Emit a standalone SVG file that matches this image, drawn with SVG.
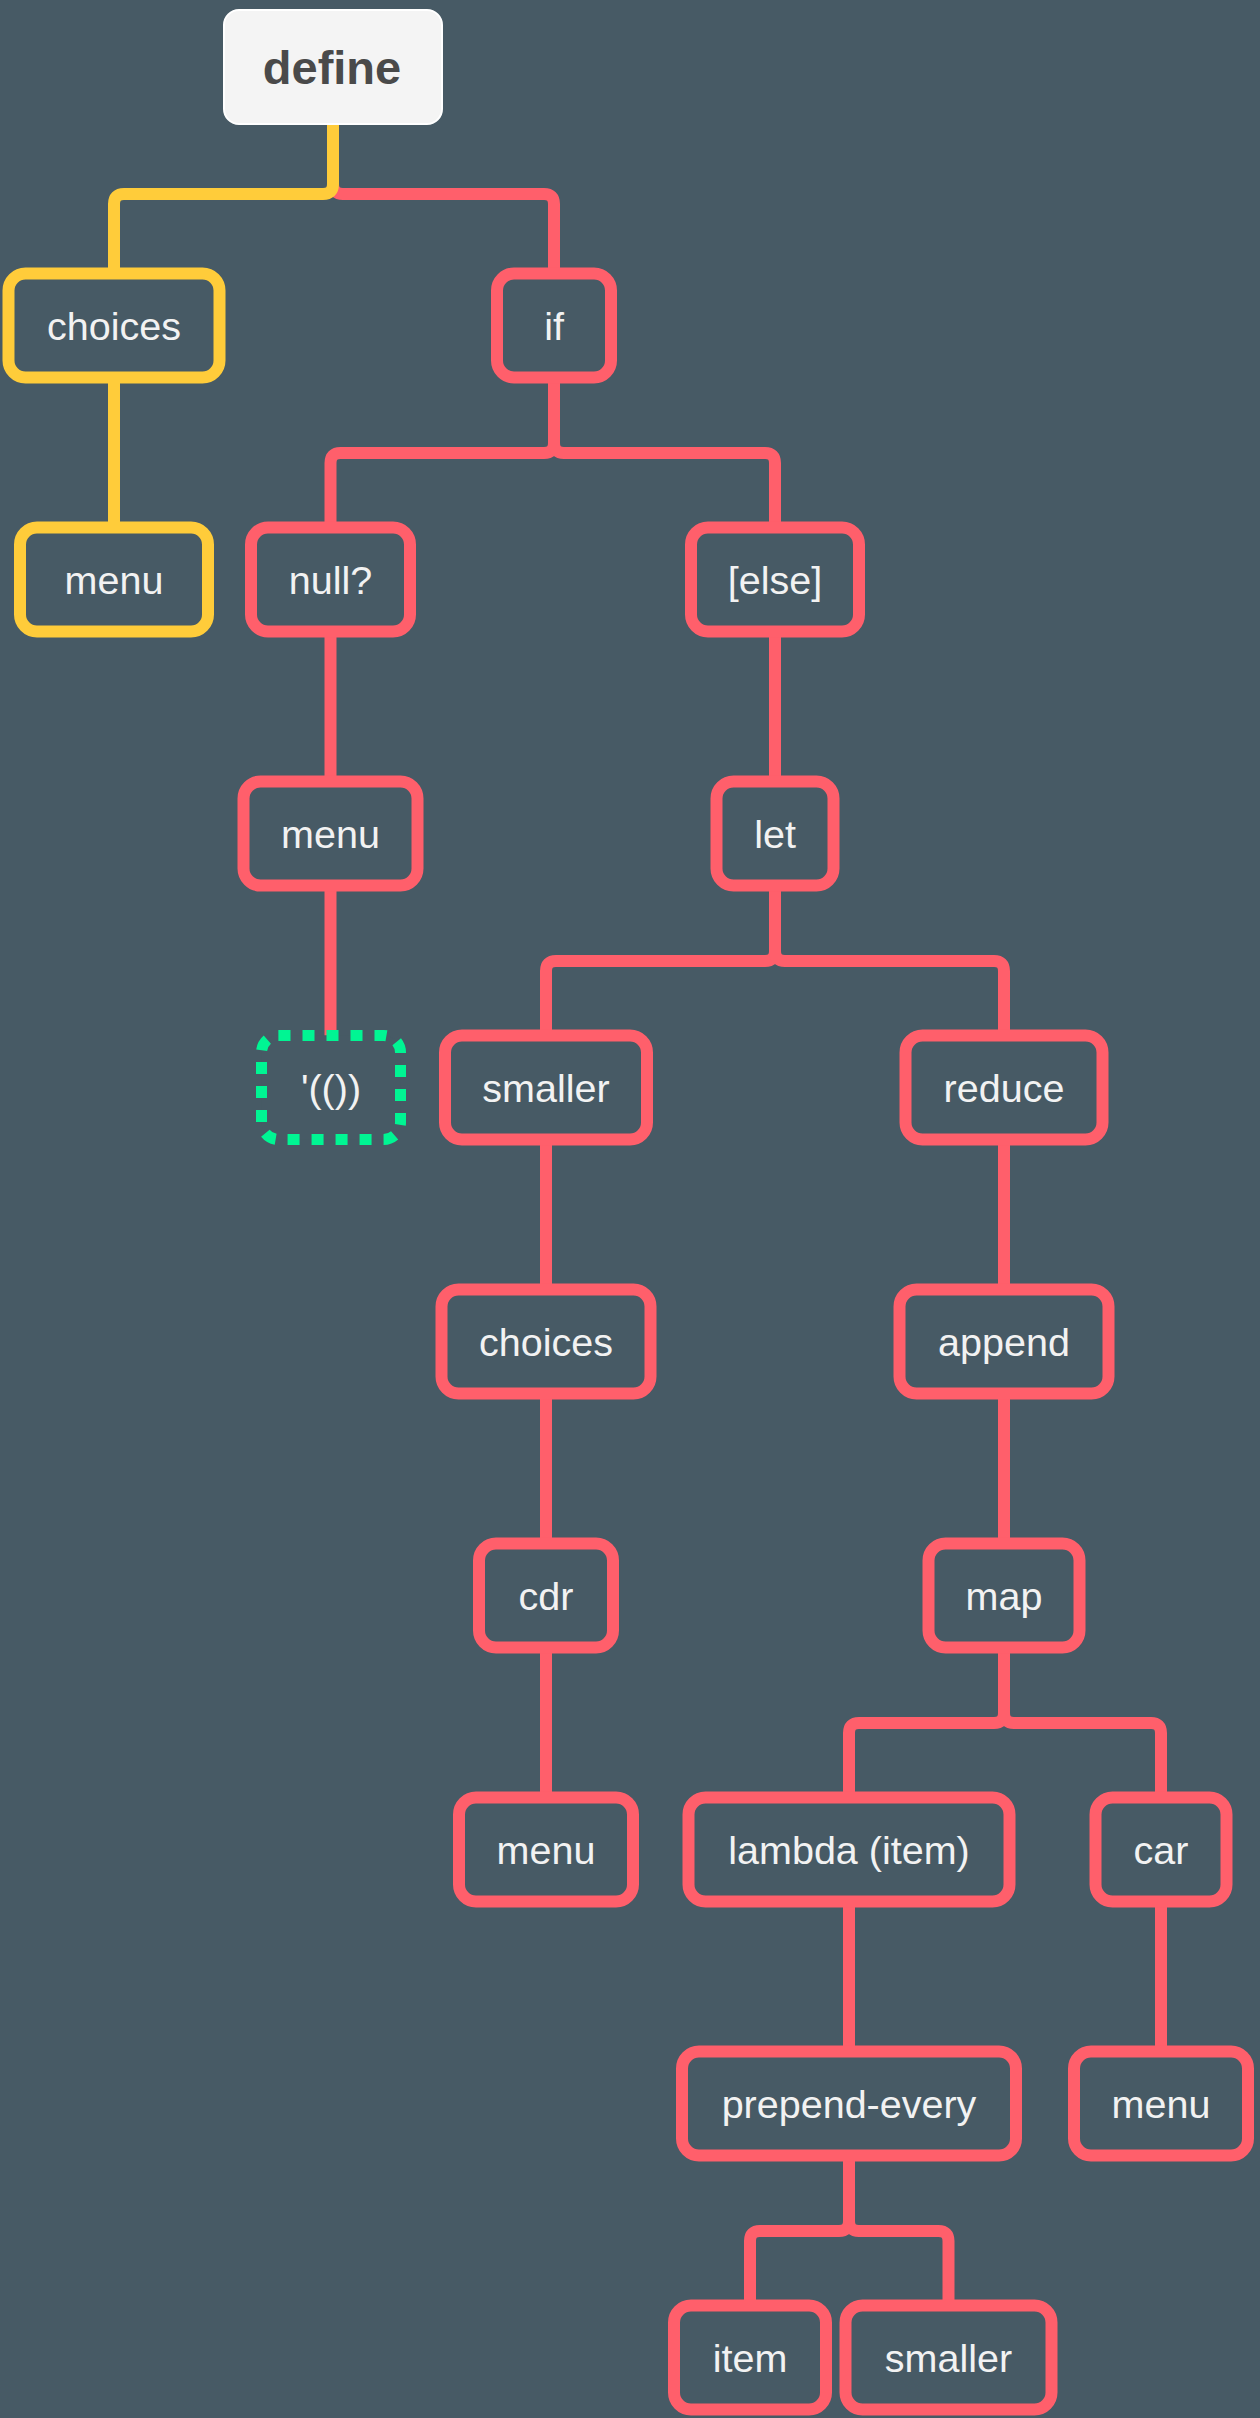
<svg xmlns="http://www.w3.org/2000/svg" width="1260" height="2418" viewBox="0 0 1260 2418">
<style>
.bg{fill:#475A65}
.ln{fill:none;stroke-width:12;stroke-linecap:butt;stroke-linejoin:round}
.ly{stroke:#FFCC3A}
.lr{stroke:#FF5F6B}
.nd{fill:#475A65;stroke-width:12}
.ny{stroke:#FFCC3A}
.nr{stroke:#FF5F6B}
.ng{fill:#475A65;stroke:#00F593;stroke-width:11;stroke-dasharray:12 12}
.t{font-family:"Liberation Sans",Arial,Helvetica,sans-serif;font-size:39.5px;fill:#F2F2F2;text-anchor:middle}
.td{font-family:"Liberation Sans",Arial,Helvetica,sans-serif;font-size:47px;font-weight:bold;fill:#4A4A4A;text-anchor:middle}
</style>
<rect class="bg" x="0" y="0" width="1260" height="2418"/>
<g id="connectors">
<path class="ln lr" d="M333,184 Q333,194 343,194 H544 Q554,194 554,204 V273.5"/>
<path class="ln ly" d="M333,124 V184 Q333,194 323,194 H124 Q114,194 114,204 V273.5"/>
<path class="ln ly" d="M114,377.5 V527.5"/>
<path class="ln lr" d="M554,377.5 V443 Q554,453 544,453 H340.5 Q330.5,453 330.5,463 V527.5"/>
<path class="ln lr" d="M554,443 Q554,453 564,453 H765 Q775,453 775,463 V527.5"/>
<path class="ln lr" d="M330.5,631.5 V781.5"/>
<path class="ln lr" d="M330.5,885.5 V1035.5"/>
<path class="ln lr" d="M775,631.5 V781.5"/>
<path class="ln lr" d="M775,885.5 V951 Q775,961 765,961 H556 Q546,961 546,971 V1035.5"/>
<path class="ln lr" d="M775,951 Q775,961 785,961 H994 Q1004,961 1004,971 V1035.5"/>
<path class="ln lr" d="M546,1139.5 V1289.5"/>
<path class="ln lr" d="M546,1393.5 V1543.5"/>
<path class="ln lr" d="M546,1647.5 V1797.5"/>
<path class="ln lr" d="M1004,1139.5 V1289.5"/>
<path class="ln lr" d="M1004,1393.5 V1543.5"/>
<path class="ln lr" d="M1004,1647.5 V1713 Q1004,1723 994,1723 H859 Q849,1723 849,1733 V1797.5"/>
<path class="ln lr" d="M1004,1713 Q1004,1723 1014,1723 H1151 Q1161,1723 1161,1733 V1797.5"/>
<path class="ln lr" d="M849,1901.5 V2051.5"/>
<path class="ln lr" d="M1161,1901.5 V2051.5"/>
<path class="ln lr" d="M849,2155.5 V2221 Q849,2231 839,2231 H760 Q750,2231 750,2241 V2305.5"/>
<path class="ln lr" d="M849,2221 Q849,2231 859,2231 H938.5 Q948.5,2231 948.5,2241 V2305.5"/>
</g>
<g id="n-define"><rect x="224" y="10" width="218" height="114" rx="15" fill="#F4F4F4" stroke="#FFFFFF" stroke-width="2"/><text class="td" x="332" y="84">define</text></g>
<g id="n-choices1"><rect class="nd ny" x="8.5" y="273.5" width="211" height="104" rx="17"/><text class="t" x="114" y="339.5">choices</text></g>
<g id="n-if"><rect class="nd nr" x="497" y="273.5" width="114" height="104" rx="17"/><text class="t" x="554" y="339.5">if</text></g>
<g id="n-menu1"><rect class="nd ny" x="20" y="527.5" width="188" height="104" rx="17"/><text class="t" x="114" y="593.5">menu</text></g>
<g id="n-null"><rect class="nd nr" x="251" y="527.5" width="159" height="104" rx="17"/><text class="t" x="330.5" y="593.5">null?</text></g>
<g id="n-else"><rect class="nd nr" x="691" y="527.5" width="168" height="104" rx="17"/><text class="t" x="775" y="593.5">[else]</text></g>
<g id="n-menu2"><rect class="nd nr" x="243.5" y="781.5" width="174" height="104" rx="17"/><text class="t" x="330.5" y="847.5">menu</text></g>
<g id="n-let"><rect class="nd nr" x="716.5" y="781.5" width="117" height="104" rx="17"/><text class="t" x="775" y="847.5">let</text></g>
<g id="n-empty"><rect class="ng" x="261.5" y="1035.5" width="139" height="104" rx="17"/><text class="t" x="331" y="1101.5">'(())</text></g>
<g id="n-smaller1"><rect class="nd nr" x="445" y="1035.5" width="202" height="104" rx="17"/><text class="t" x="546" y="1101.5">smaller</text></g>
<g id="n-reduce"><rect class="nd nr" x="905.5" y="1035.5" width="197" height="104" rx="17"/><text class="t" x="1004" y="1101.5">reduce</text></g>
<g id="n-choices2"><rect class="nd nr" x="441.5" y="1289.5" width="209" height="104" rx="17"/><text class="t" x="546" y="1355.5">choices</text></g>
<g id="n-append"><rect class="nd nr" x="899.5" y="1289.5" width="209" height="104" rx="17"/><text class="t" x="1004" y="1355.5">append</text></g>
<g id="n-cdr"><rect class="nd nr" x="479" y="1543.5" width="134" height="104" rx="17"/><text class="t" x="546" y="1609.5">cdr</text></g>
<g id="n-map"><rect class="nd nr" x="928.5" y="1543.5" width="151" height="104" rx="17"/><text class="t" x="1004" y="1609.5">map</text></g>
<g id="n-menu3"><rect class="nd nr" x="459" y="1797.5" width="174" height="104" rx="17"/><text class="t" x="546" y="1863.5">menu</text></g>
<g id="n-lambda"><rect class="nd nr" x="688.5" y="1797.5" width="321" height="104" rx="17"/><text class="t" x="849" y="1863.5">lambda (item)</text></g>
<g id="n-car"><rect class="nd nr" x="1095.5" y="1797.5" width="131" height="104" rx="17"/><text class="t" x="1161" y="1863.5">car</text></g>
<g id="n-prepend"><rect class="nd nr" x="682" y="2051.5" width="334" height="104" rx="17"/><text class="t" x="849" y="2117.5">prepend-every</text></g>
<g id="n-menu4"><rect class="nd nr" x="1074" y="2051.5" width="174" height="104" rx="17"/><text class="t" x="1161" y="2117.5">menu</text></g>
<g id="n-item"><rect class="nd nr" x="674" y="2305.5" width="152" height="104" rx="17"/><text class="t" x="750" y="2371.5">item</text></g>
<g id="n-smaller2"><rect class="nd nr" x="845.5" y="2305.5" width="206" height="104" rx="17"/><text class="t" x="948.5" y="2371.5">smaller</text></g>
</svg>
